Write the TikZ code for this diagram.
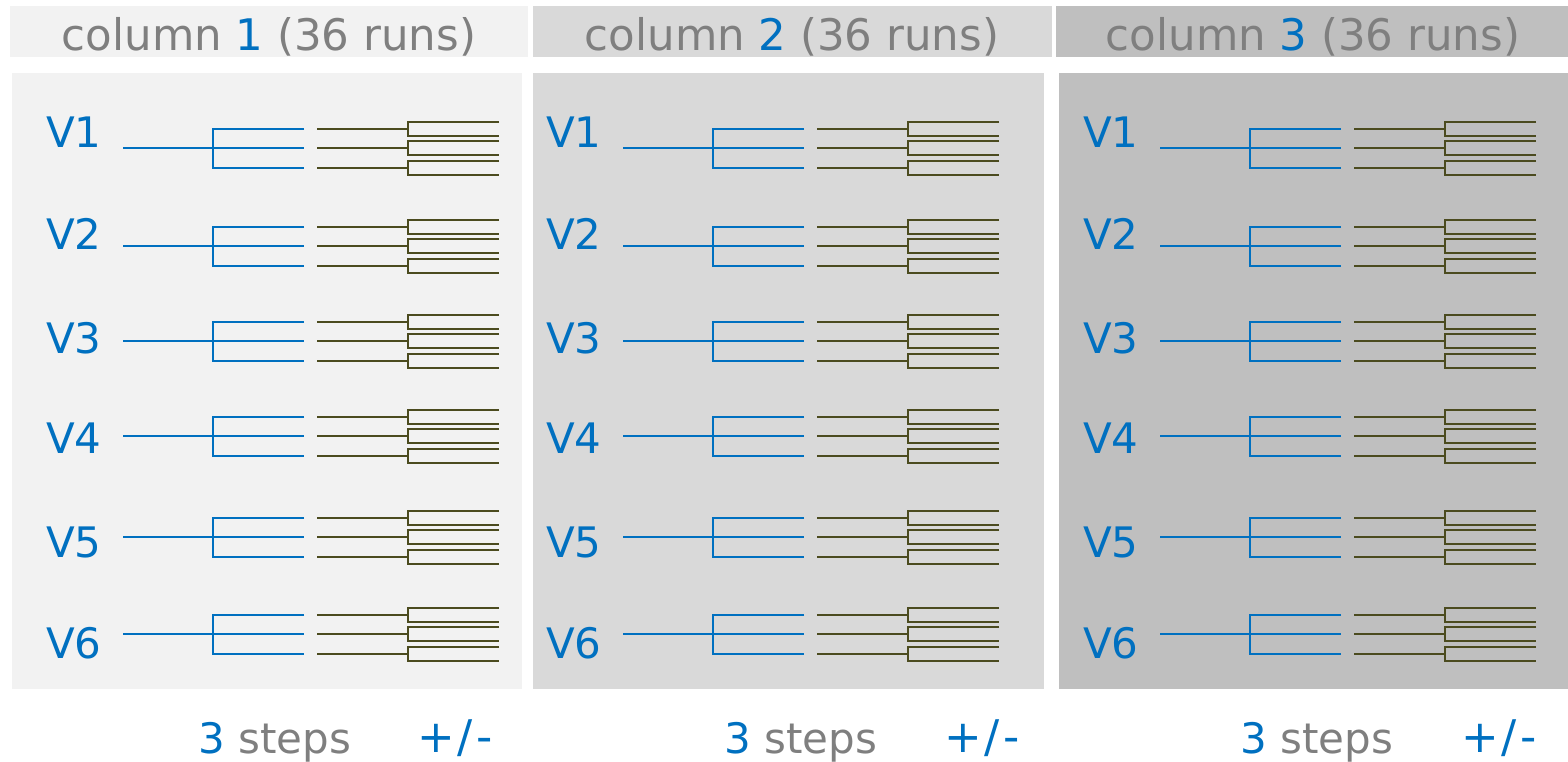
\documentclass[tikz,border=0pt]{standalone}
\usepackage{fontspec}
\setmainfont{DejaVu Sans}
\definecolor{pgray}{HTML}{7F7F7F}
\definecolor{pblue}{HTML}{0070C0}
\definecolor{polive}{HTML}{4B4B1F}
\definecolor{bgA}{HTML}{F2F2F2}
\definecolor{bgB}{HTML}{D9D9D9}
\definecolor{bgC}{HTML}{BFBFBF}
\tikzset{
  hdr/.style={anchor=base, inner sep=0pt, text=pgray, font=\fontsize{43.5}{50}\selectfont},
  vlab/.style={anchor=base west, inner sep=0pt, text=pblue, font=\fontsize{42}{50}\selectfont},
  foot/.style={anchor=base west, inner sep=0pt, text=pgray, font=\fontsize{42}{50}\selectfont},
  pmfoot/.style={anchor=base west, inner sep=0pt, text=pblue, font=\fontsize{45}{50}\selectfont},
  bluetree/.style={draw=pblue, line width=2.2pt},
  olivetree/.style={draw=polive, line width=2.2pt},
}
\newcommand{\plusminuslabel}{+\kern3pt/\kern3pt-}
\begin{document}
\begin{tikzpicture}[x=1pt,y=-1pt]
\useasboundingbox (0,0) rectangle (1568,761);
% headers
\fill[bgA] (10,6) rectangle (528,57);
\fill[bgB] (533,6) rectangle (1052,57);
\fill[bgC] (1056,6) rectangle (1568,57);
% panels
\fill[bgA] (12,73) rectangle (522,689);
\fill[bgB] (533,73) rectangle (1044,689);
\fill[bgC] (1059,73) rectangle (1568,689);
% header texts
\node[hdr] (h1) at (269,50) {column \textcolor{pblue}{1} (36 runs)};
\node[hdr] (h2) at (792,50) {column \textcolor{pblue}{2} (36 runs)};
\node[hdr] (h3) at (1313,50) {column \textcolor{pblue}{3} (36 runs)};
% trees
\foreach \dx in {0,500,1037}{
  \foreach \i/\ry/\by in {1/148/147, 2/246/249, 3/341/353, 4/436/453, 5/537/557, 6/634/658}{
    \node[vlab] (v\i-\dx) at (46+\dx,\by) {V\i};
    \draw[bluetree] (123+\dx,\ry) -- (213+\dx,\ry);
    \draw[bluetree] (304+\dx,\ry-19) -- (213+\dx,\ry-19) -- (213+\dx,\ry+20) -- (304+\dx,\ry+20);
    \draw[bluetree] (213+\dx,\ry) -- (304+\dx,\ry);
    \foreach \o in {-19,0,20}{
      \draw[olivetree] (317+\dx,\ry+\o) -- (408+\dx,\ry+\o);
      \draw[olivetree] (499+\dx,\ry+\o-7) -- (408+\dx,\ry+\o-7) -- (408+\dx,\ry+\o+7) -- (499+\dx,\ry+\o+7);
    }
  }
}
% footer
\node[foot] (s1) at (198,753) {\textcolor{pblue}{3} steps};
\node[pmfoot] (p1) at (417,752) {\plusminuslabel};
\node[foot] (s2) at (724,753) {\textcolor{pblue}{3} steps};
\node[pmfoot] (p2) at (944,752) {\plusminuslabel};
\node[foot] (s3) at (1240,753) {\textcolor{pblue}{3} steps};
\node[pmfoot] (p3) at (1461,752) {\plusminuslabel};
\end{tikzpicture}
\end{document}
